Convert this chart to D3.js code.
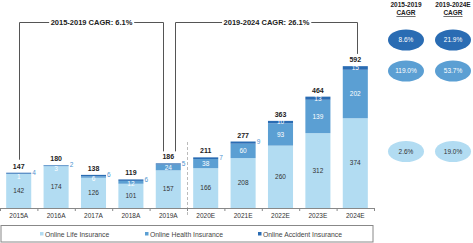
<!DOCTYPE html>
<html><head><meta charset="utf-8">
<script src="https://cdn.jsdelivr.net/npm/d3@7"></script>
<style>
body{margin:0;background:#fff;}
svg{display:block;font-family:"Liberation Sans",Arial,sans-serif;}
</style></head>
<body><svg id="c" width="473" height="243"></svg>
<script>
const categories = ["2015A","2016A","2017A","2018A","2019A","2020E","2021E","2022E","2023E","2024E"];
const lifeValues = [142,174,126,101,157,166,208,260,312,374];
const healthValues = [1,3,6,12,24,38,60,93,139,202];
const accidentValues = [4,2,6,6,5,7,9,10,13,15];
const totalLabels = [147,180,138,119,186,211,277,363,464,592];
const seriesNames = ["Online Life Insurance","Online Health Insurance","Online Accident Insurance"];
const cagrHeaders = [["2015-2019","CAGR"],["2019-2024E","CAGR"]];
const cagrAccident = ["8.6%","21.9%"];
const cagrHealth = ["119.0%","53.7%"];
const cagrLife = ["2.6%","19.0%"];
const bracketLabels = ["2015-2019 CAGR: 6.1%","2019-2024 CAGR: 26.1%"];

const colors = ["#b2dcf2","#5b9fd3","#2a6cb3"];
const svg = d3.select("#c");

const x = d3.scaleBand().domain(categories).range([0,374]).paddingInner(0.33).paddingOuter(0.165);
const y = d3.scaleLinear().domain([0,600]).range([208,64]);
const bw = x.bandwidth();
const step = x.step();

const rows = categories.map((c,i)=>({c,i,life:lifeValues[i],health:healthValues[i],acc:accidentValues[i]}));
const stack = d3.stack().keys(["life","health","acc"])(rows);

// dashed separator
const sepX = Math.round(x("2020E")-step*0.165)+0.5;
svg.append("line").attr("x1",sepX).attr("x2",sepX)
  .attr("y1",142).attr("y2",215).attr("stroke","#bbb").attr("stroke-width",1).attr("stroke-dasharray","3,2");

// bars
stack.forEach((s,k)=>{
  svg.append("g").selectAll("rect").data(s).enter().append("rect")
    .attr("x",d=>x(d.data.c)).attr("width",bw)
    .attr("y",d=>y(d[1])).attr("height",d=>y(d[0])-y(d[1]))
    .attr("fill",colors[k]);
});

// axis
const axisG = svg.append("g").attr("transform","translate(0,208)")
  .call(d3.axisBottom(x).tickSize(0).tickPadding(5));
axisG.select(".domain").attr("stroke","#888");
axisG.selectAll("text").attr("font-size","6.5px").attr("fill","#333").attr("font-family","Liberation Sans, Arial, sans-serif");
const bounds = categories.map(c=>x(c)-step*0.165).concat([374]);
svg.append("g").selectAll("line").data(bounds).enter().append("line")
  .attr("x1",d=>d+0.5).attr("x2",d=>d+0.5).attr("y1",208).attr("y2",211).attr("stroke","#888");

// labels
const lab = svg.append("g").attr("font-size","6.5px").attr("text-anchor","middle");
rows.forEach((r,i)=>{
  const cx = x(r.c)+bw/2;
  lab.append("text").attr("x",cx).attr("y",(y(0)+y(r.life))/2+2.3).attr("fill","#333").text(r.life);
  const hc = (y(r.life)+y(r.life+r.health))/2;
  const top = y(r.life+r.health+r.acc);
  const hy = Math.max(hc, top+4);
  lab.append("text").attr("x",cx).attr("y",hy+2.3).attr("fill","#fff").text(r.health);
  if(i<7){
    lab.append("text").attr("x",x(r.c)+bw+1).attr("y",top+2.3).attr("text-anchor","start").attr("fill","#4f93cf").text(r.acc);
  } else {
    lab.append("text").attr("x",cx).attr("y",(y(r.life+r.health)+top)/2+2.3).attr("fill","#fff").text(r.acc);
  }
  lab.append("text").attr("x",cx).attr("y",top-4).attr("font-weight","bold").attr("font-size","7px").attr("fill","#222").text(totalLabels[i]);
});

// brackets
function bracket(x1,y1,x2,y2,yTop,label){
  const g = svg.append("g");
  g.append("path").attr("d",`M${x1},${y1}V${yTop}H${x2}V${y2}`).attr("fill","none").attr("stroke","#555").attr("stroke-width",1);
  const t = g.append("text").attr("x",(x1+x2)/2).attr("y",yTop+2.5).attr("text-anchor","middle")
    .attr("font-size","7.5px").attr("font-weight","bold").attr("fill","#222").text(label);
  const bb = t.node().getBBox();
  g.insert("rect","text").attr("x",bb.x-1.5).attr("y",yTop-2).attr("width",bb.width+3).attr("height",4).attr("fill","#fff");
}
const c15 = x("2015A")+bw/2, c19 = x("2019A")+bw/2, c24 = x("2024E")+bw/2;
bracket(Math.round(c15)+0.5, y(147)-13, Math.round(c19-5)+0.5, y(186)-12, 22.5, bracketLabels[0]);
bracket(Math.round(c19+7)+0.5, y(186)-12, Math.round(c24+1.5)+0.5, y(592)-12, 22.5, bracketLabels[1]);

// CAGR panel
const colX = [406,453];
const ph = svg.append("g").attr("font-size","6.5px").attr("font-weight","bold").attr("text-anchor","middle").attr("fill","#222");
cagrHeaders.forEach((h,j)=>{
  ph.append("text").attr("x",colX[j]).attr("y",7).attr("fill","#222").text(h[0]);
  ph.append("text").attr("x",colX[j]).attr("y",15).attr("fill","#222").attr("text-decoration","underline").text(h[1]);
});
const ellRows = [[cagrAccident,40,colors[2],"#fff"],[cagrHealth,71,colors[1],"#fff"],[cagrLife,151.5,colors[0],"#333"]];
ellRows.forEach(([vals,cy,fill,tc])=>{
  vals.forEach((v,j)=>{
    svg.append("ellipse").attr("cx",colX[j]).attr("cy",cy).attr("rx",18).attr("ry",10.5).attr("fill",fill);
    svg.append("text").attr("x",colX[j]).attr("y",cy+2.3).attr("text-anchor","middle").attr("font-size","6.5px").attr("fill",tc).text(v);
  });
});

// legend
svg.append("rect").attr("x",1).attr("y",225.5).attr("width",372).attr("height",16.5).attr("fill","none").attr("stroke","#888");
const legX = [40,145,258];
seriesNames.forEach((n,k)=>{
  svg.append("rect").attr("x",legX[k]).attr("y",232).attr("width",3.5).attr("height",3.5).attr("fill",colors[k]);
  svg.append("text").attr("x",legX[k]+5).attr("y",236.5).attr("font-size","6.8px").attr("fill","#444").text(n);
});
</script></body></html>
